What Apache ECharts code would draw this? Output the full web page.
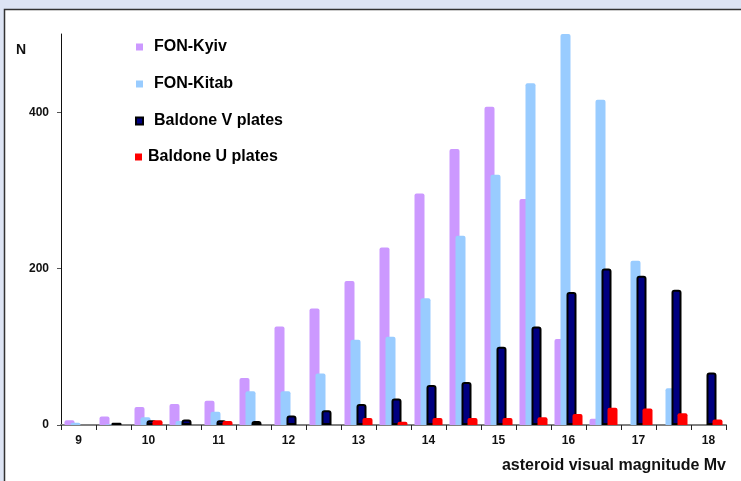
<!DOCTYPE html>
<html>
<head>
<meta charset="utf-8">
<script src="https://cdn.jsdelivr.net/npm/echarts@6/dist/echarts.min.js"></script>
<style>
  html, body { margin: 0; padding: 0; background: #dde4f4; }
  #chart { width: 741px; height: 481px; }
</style>
</head>
<body>
<div id="chart"></div>
<script>
// Asteroid counts per half-magnitude bin
const magnitudes = ['9', '9.5', '10', '10.5', '11', '11.5', '12', '12.5', '13', '13.5',
                    '14', '14.5', '15', '15.5', '16', '16.5', '17', '17.5', '18'];
const fonKyiv    = [6, 11, 23, 27, 31, 60, 126, 149, 184, 227, 296, 353, 407, 289, 110, 8, null, null, null];
const fonKitab   = [3, 1, 10, 5, 17, 43, 43, 66, 109, 113, 162, 242, 320, 437, 500, 416, 210, 47, null];
const baldoneV   = [null, 3, 6, 7, 6, 5, 12, 19, 27, 34, 51, 55, 100, 126, 170, 200, 191, 173, 67];
const baldoneU   = [null, null, 6, null, 5, null, null, null, 9, 4, 9, 9, 9, 10, 14, 22, 21, 15, 7];
const yTicks     = [0, 200, 400];

const FONT = '"Liberation Sans", Arial, sans-serif';

const chart = echarts.init(document.getElementById('chart'), null, { renderer: 'canvas' });

const barBase = {
  type: 'bar',
  barWidth: 10,
  barGap: '-40%',
  barCategoryGap: '20%'
};

const legendText = { fontFamily: FONT, fontSize: 16, fontWeight: 'bold', color: '#000', lineHeight: 16 };

chart.setOption({
  backgroundColor: '#dde4f4',
  animation: false,
  graphic: [{
    type: 'rect',
    z: -10,
    shape: { x: 4.5, y: 9.5, width: 800, height: 600 },
    style: { fill: '#ffffff', stroke: '#333333', lineWidth: 1.5 }
  }],
  title: {
    text: 'N',
    left: 11,
    top: 38,
    textStyle: { fontFamily: FONT, fontSize: 14, fontWeight: 'bold', color: '#111' }
  },
  legend: [{
    data: ['FON-Kyiv', 'FON-Kitab', 'Baldone V plates'],
    orient: 'vertical',
    left: 135,
    top: 39,
    padding: 0,
    itemGap: 21,
    icon: 'rect',
    itemWidth: 7,
    itemHeight: 7,
    textStyle: Object.assign({ padding: [0, 0, 0, 6] }, legendText)
  }, {
    data: ['Baldone U plates'],
    orient: 'vertical',
    left: 135,
    top: 149,
    padding: 0,
    icon: 'rect',
    itemWidth: 7,
    itemHeight: 7,
    textStyle: Object.assign({ padding: [0, 0, 0, 1] }, legendText)
  }],
  grid: { left: 61, right: 15, top: 34, bottom: 56, containLabel: false },
  xAxis: {
    type: 'category',
    data: magnitudes,
    name: 'asteroid visual magnitude Mv',
    nameLocation: 'end',
    nameGap: 0,
    nameTextStyle: {
      fontFamily: FONT, fontSize: 16, fontWeight: 'bold', color: '#111',
      align: 'right', verticalAlign: 'top', padding: [33, 0, 0, 0]
    },
    axisLine: { lineStyle: { color: '#808080', width: 2 } },
    axisTick: { show: true, interval: 0, length: 5, lineStyle: { color: '#222' } },
    axisLabel: {
      interval: 1,
      margin: 10,
      fontFamily: FONT, fontSize: 12, fontWeight: 'bold', color: '#111'
    },
    splitLine: { show: false }
  },
  yAxis: {
    type: 'value',
    min: 0,
    max: 500,
    interval: 200,
    axisLine: { show: true, lineStyle: { color: '#111', width: 1 } },
    axisTick: { show: true, length: 4, customValues: yTicks, lineStyle: { color: '#555' } },
    axisLabel: {
      customValues: yTicks,
      margin: 12,
      fontFamily: FONT, fontSize: 12, fontWeight: 'bold', color: '#111'
    },
    splitLine: { show: false }
  },
  series: [
    Object.assign({}, barBase, {
      name: 'FON-Kyiv',
      data: fonKyiv,
      itemStyle: { color: '#cc99ff', borderRadius: [2, 2, 0, 0] }
    }),
    Object.assign({}, barBase, {
      name: 'FON-Kitab',
      data: fonKitab,
      itemStyle: { color: '#99ccff', borderRadius: [2, 2, 0, 0] }
    }),
    Object.assign({}, barBase, {
      name: 'Baldone V plates',
      data: baldoneV,
      itemStyle: { color: '#000080', borderColor: '#000000', borderWidth: 2, borderRadius: [2, 2, 0, 0] }
    }),
    Object.assign({}, barBase, {
      name: 'Baldone U plates',
      data: baldoneU,
      itemStyle: { color: '#ff0000', borderRadius: [2, 2, 0, 0] }
    })
  ]
});
</script>
</body>
</html>
